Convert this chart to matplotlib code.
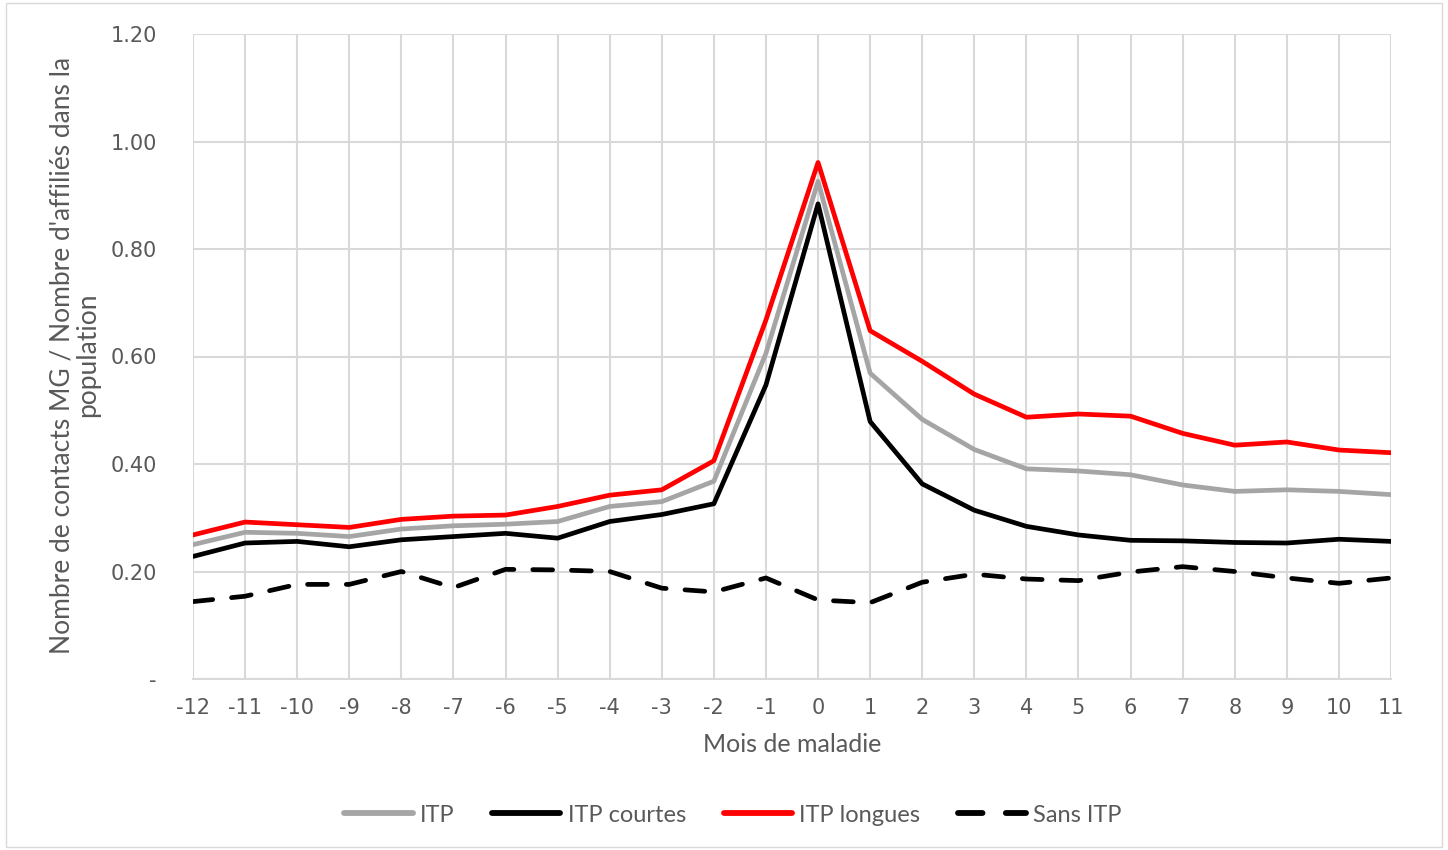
import matplotlib

matplotlib.use("Agg")
import matplotlib.pyplot as plt
from matplotlib.patches import Rectangle
from matplotlib.ticker import FuncFormatter

# month relative to sick leave start
months = list(range(-12, 12))

itp = [0.250, 0.273, 0.271, 0.265, 0.279, 0.285, 0.288, 0.293, 0.321, 0.330, 0.368, 0.606,
       0.926, 0.569, 0.483, 0.427, 0.391, 0.387, 0.380, 0.361, 0.349, 0.352, 0.349, 0.343]
itp_courtes = [0.228, 0.253, 0.256, 0.246, 0.259, 0.265, 0.271, 0.262, 0.293, 0.306, 0.326, 0.547,
               0.884, 0.479, 0.363, 0.314, 0.284, 0.268, 0.258, 0.257, 0.254, 0.253, 0.260, 0.256]
itp_longues = [0.268, 0.292, 0.287, 0.282, 0.297, 0.303, 0.305, 0.321, 0.342, 0.352, 0.406, 0.668,
               0.961, 0.648, 0.591, 0.530, 0.487, 0.493, 0.489, 0.457, 0.435, 0.441, 0.426, 0.421]
sans_itp = [0.144, 0.154, 0.176, 0.176, 0.200, 0.170, 0.204, 0.203, 0.200, 0.169, 0.162, 0.188,
            0.147, 0.142, 0.180, 0.195, 0.186, 0.183, 0.199, 0.209, 0.200, 0.188, 0.178, 0.188]

y_ticks = [0, 0.2, 0.4, 0.6, 0.8, 1.0, 1.2]

TEXT = "#595959"
GRID = "#d9d9d9"
TEXT_FONT = ["Lato", "DejaVu Sans"]
LW = 3.4

fig = plt.figure(figsize=(14.48, 8.5), dpi=100)
fig.patches.append(Rectangle((0.004, 0.004), 0.992, 0.992, transform=fig.transFigure,
                             fill=False, edgecolor=GRID, linewidth=1))

ax = fig.add_axes([193 / 1448, 1 - 679 / 850, (1391 - 193) / 1448, (679 - 34) / 850])

ax.plot(months, itp, color="#a5a5a5", lw=LW, label="ITP", solid_capstyle="round")
ax.plot(months, itp_courtes, color="black", lw=LW, label="ITP courtes", solid_capstyle="round")
ax.plot(months, itp_longues, color="#ff0000", lw=LW, label="ITP longues", solid_capstyle="round")
ax.plot(months, sans_itp, color="black", lw=LW, label="Sans ITP", dashes=(4.2, 4.0),
        dash_capstyle="round")

ax.set_xlim(months[0], months[-1])
ax.set_ylim(0, 1.2)
ax.set_xticks(months)
ax.set_xticklabels([str(m) for m in months])
ax.set_yticks(y_ticks)
ax.yaxis.set_major_formatter(FuncFormatter(lambda v, p: "-" if v == 0 else f"{v:.2f}"))
ax.grid(True, color=GRID, linewidth=1.5)
ax.set_axisbelow(True)
for side in ["top", "right", "left"]:
    ax.spines[side].set_visible(False)
ax.spines["bottom"].set_color(GRID)
ax.spines["bottom"].set_linewidth(1.5)
ax.tick_params(length=0, labelsize=15, labelcolor=TEXT)
ax.tick_params(axis="y", pad=26)
ax.tick_params(axis="x", pad=14)

fig.text(75 / 1448, 1 - 355 / 850, "Nombre de contacts MG / Nombre d'affiliés dans la\npopulation",
         rotation=90, ha="center", va="center", multialignment="center",
         fontsize=19, color=TEXT, family=TEXT_FONT, linespacing=1.05)
fig.text(792 / 1448, 1 - 745 / 850, "Mois de maladie", ha="center", va="center",
         fontsize=18, color=TEXT, family=TEXT_FONT)

leg = fig.legend(loc="center", bbox_to_anchor=(733 / 1448, 1 - 815 / 850), ncol=4, frameon=False,
                 handlelength=2.9, handletextpad=0.3, columnspacing=1.6,
                 prop={"family": TEXT_FONT, "size": 17})
for t in leg.get_texts():
    t.set_color(TEXT)
for h in leg.get_lines():
    h.set_linewidth(LW + 0.8)

fig.savefig("out.png", dpi=100)
